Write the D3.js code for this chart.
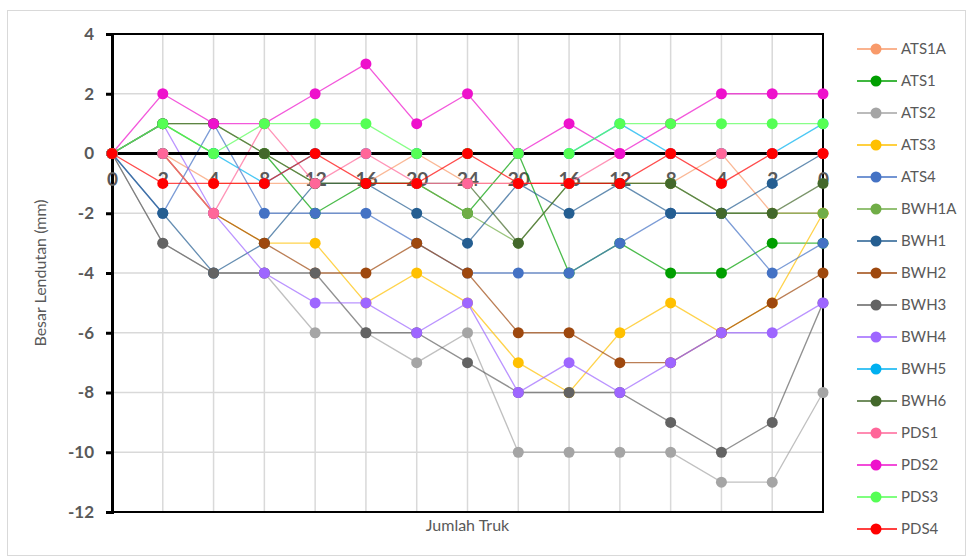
<!DOCTYPE html>
<html lang="en">
<head>
  <meta charset="utf-8">
  <title>Besar Lendutan</title>
  <script src="https://cdn.jsdelivr.net/npm/d3@7"></script>
  <style>
    body { margin: 0; background: #fff; }
    text { font-family: Lato, "Open Sans", sans-serif; }
  </style>
</head>
<body>
  <script>
    // categories on the x axis (truck count, loading then unloading)
    const xLabels = ["0", "2", "4", "8", "12", "16", "20", "24", "20", "16", "12", "8", "4", "2", "0"];
    const yTicks = [4, 2, 0, -2, -4, -6, -8, -10, -12];

    // series values
    const ATS1A = [0, 0, -1, -1, -1, -1, 0, -1, -1, -1, -1, -1, 0, -2, -2];
    const ATS1  = [0, 1, 0, 0, -2, -1, -1, -2, 0, -4, -3, -4, -4, -3, -3];
    const ATS2  = [0, -3, -4, -4, -6, -6, -7, -6, -10, -10, -10, -10, -11, -11, -8];
    const ATS3  = [0, 0, -2, -3, -3, -5, -4, -5, -7, -8, -6, -5, -6, -5, -2];
    const ATS4  = [0, -2, 1, -2, -2, -2, -3, -4, -4, -4, -3, -2, -2, -4, -3];
    const BWH1A = [0, 1, 1, 0, -1, -1, -1, -2, -3, -1, -1, -1, -2, -2, -2];
    const BWH1  = [0, -2, -4, -3, -1, -1, -2, -3, -1, -2, -1, -2, -2, -1, 0];
    const BWH2  = [0, 0, -2, -3, -4, -4, -3, -4, -6, -6, -7, -7, -6, -5, -4];
    const BWH3  = [0, -3, -4, -4, -4, -6, -6, -7, -8, -8, -8, -9, -10, -9, -5];
    const BWH4  = [0, 1, -2, -4, -5, -5, -6, -5, -8, -7, -8, -7, -6, -6, -5];
    const BWH5  = [0, 0, 0, -1, 0, 0, 0, 0, 0, 0, 1, 0, 0, 0, 1];
    const BWH6  = [0, 1, 1, 0, -1, -1, -1, -1, -3, -1, -1, -1, -2, -2, -1];
    const PDS1  = [0, 0, -2, 1, -1, 0, -1, -1, -1, -1, 0, 0, 0, 0, 0];
    const PDS2  = [0, 2, 1, 1, 2, 3, 1, 2, 0, 1, 0, 1, 2, 2, 2];
    const PDS3  = [0, 1, 0, 1, 1, 1, 0, 0, 0, 0, 1, 1, 1, 1, 1];
    const PDS4  = [0, -1, -1, -1, 0, -1, -1, 0, -1, -1, -1, 0, -1, 0, 0];

    const seriesNames = ["ATS1A", "ATS1", "ATS2", "ATS3", "ATS4", "BWH1A", "BWH1", "BWH2",
                         "BWH3", "BWH4", "BWH5", "BWH6", "PDS1", "PDS2", "PDS3", "PDS4"];
    const seriesValues = [ATS1A, ATS1, ATS2, ATS3, ATS4, BWH1A, BWH1, BWH2,
                          BWH3, BWH4, BWH5, BWH6, PDS1, PDS2, PDS3, PDS4];
    const colors = ["#F89A6A", "#009F00", "#A5A5A5", "#FFC000", "#4472C4", "#70AD47", "#255E91", "#9E480E",
                    "#636363", "#9E66FF", "#00B0F0", "#43682B", "#FF6699", "#EE11CC", "#55FF55", "#FF0000"];

    const series = seriesNames.map((name, i) => ({ name: name, values: seriesValues[i], color: colors[i] }));

    const width = 968, height = 557;
    const plot = { left: 112, right: 823, top: 34, bottom: 512 };

    const svg = d3.select("body").append("svg")
      .attr("width", width)
      .attr("height", height);

    // outer chart border
    svg.append("rect")
      .attr("x", 7.5).attr("y", 10.5)
      .attr("width", 958).attr("height", 545)
      .attr("fill", "none").attr("stroke", "#D9D9D9");

    // scales
    const x = d3.scalePoint()
      .domain(d3.range(xLabels.length))
      .range([plot.left, plot.right]);
    const y = d3.scaleLinear()
      .domain([-12, 4])
      .range([plot.bottom, plot.top]);

    // gridlines
    svg.append("g").selectAll("line").data(yTicks).join("line")
      .attr("x1", plot.left).attr("x2", plot.right)
      .attr("y1", d => y(d)).attr("y2", d => y(d))
      .attr("stroke", "#D9D9D9").attr("stroke-width", 1.5);
    svg.append("g").selectAll("line").data(d3.range(xLabels.length)).join("line")
      .attr("x1", d => x(d)).attr("x2", d => x(d))
      .attr("y1", plot.top).attr("y2", plot.bottom)
      .attr("stroke", "#D9D9D9").attr("stroke-width", 1.5);

    // plot border
    svg.append("rect")
      .attr("x", plot.left).attr("y", plot.top)
      .attr("width", plot.right - plot.left).attr("height", plot.bottom - plot.top)
      .attr("fill", "none").attr("stroke", "#000").attr("stroke-width", 2);

    // y axis (plain hyphen for negatives, like the original)
    const yAxis = d3.axisLeft(y).tickValues(yTicks).tickFormat(d => String(d)).tickSize(6).tickPadding(12);
    const yAxisG = svg.append("g")
      .attr("transform", `translate(${plot.left}, 0)`)
      .call(yAxis);
    yAxisG.select(".domain").attr("stroke", "#000").attr("stroke-width", 3);
    yAxisG.selectAll(".tick line").attr("stroke", "#000").attr("stroke-width", 3);
    yAxisG.selectAll(".tick text")
      .attr("fill", "#595959").attr("font-size", 17).attr("font-weight", "bold")
      .style("font-family", "Lato, sans-serif");

    // x axis crossing at zero
    const xAxis = d3.axisBottom(x).tickFormat(i => xLabels[i]).tickSize(5).tickPadding(14);
    const xAxisG = svg.append("g")
      .attr("transform", `translate(0, ${y(0)})`)
      .call(xAxis);
    xAxisG.select(".domain").remove();
    xAxisG.selectAll(".tick line").attr("stroke", "#000").attr("stroke-width", 3);
    xAxisG.selectAll(".tick text")
      .attr("fill", "#595959").attr("font-size", 19).attr("font-weight", "bold")
      .style("font-family", "Lato, sans-serif");

    // the series
    const line = d3.line().x((d, i) => x(i)).y(d => y(d));
    const seriesG = svg.append("g").selectAll("g").data(series).join("g");
    seriesG.append("path")
      .attr("d", d => line(d.values))
      .attr("fill", "none")
      .attr("stroke", d => d.color)
      .attr("stroke-width", 1.3)
      .attr("stroke-opacity", 0.7);
    seriesG.selectAll("circle").data(d => d.values.map(v => ({ v: v, color: d.color }))).join("circle")
      .attr("cx", (d, i) => x(i))
      .attr("cy", d => y(d.v))
      .attr("r", 5.5)
      .attr("fill", d => d.color);

    // zero line
    svg.append("line")
      .attr("x1", plot.left).attr("x2", plot.right)
      .attr("y1", y(0)).attr("y2", y(0))
      .attr("stroke", "#000").attr("stroke-width", 3);
    // markers on the zero line sit above it
    svg.selectAll("circle").filter(d => d && d.v === 0).each(function () {
      svg.node().appendChild(this);
    });

    // axis titles
    svg.append("text")
      .attr("x", (plot.left + plot.right) / 2).attr("y", 531)
      .attr("text-anchor", "middle")
      .attr("fill", "#595959").attr("font-size", 16)
      .text("Jumlah Truk");
    svg.append("text")
      .attr("transform", `translate(46, ${(plot.top + plot.bottom) / 2}) rotate(-90)`)
      .attr("text-anchor", "middle")
      .attr("fill", "#595959").attr("font-size", 16)
      .text("Besar Lendutan (mm)");

    // legend
    const legend = svg.append("g").selectAll("g").data(series).join("g")
      .attr("transform", (d, i) => `translate(857, ${49 + i * 32})`);
    legend.append("line")
      .attr("x1", 0).attr("x2", 40)
      .attr("stroke", d => d.color).attr("stroke-width", 1.5);
    legend.append("circle")
      .attr("cx", 19).attr("r", 5.5)
      .attr("fill", d => d.color);
    legend.append("text")
      .attr("x", 44).attr("dy", "0.35em")
      .attr("fill", "#595959").attr("font-size", 15)
      .text(d => d.name);
  </script>
</body>
</html>
